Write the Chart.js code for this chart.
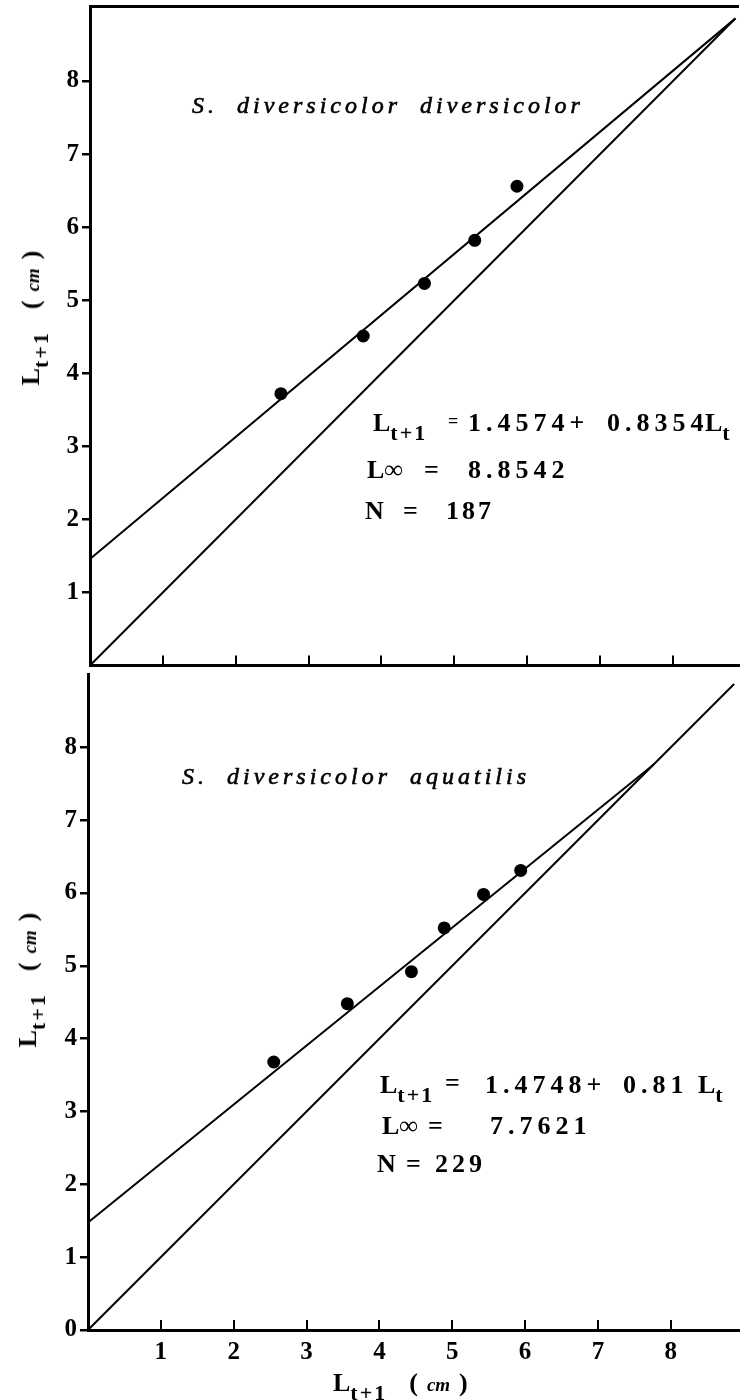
<!DOCTYPE html>
<html>
<head>
<meta charset="utf-8">
<script src="https://cdn.jsdelivr.net/npm/chart.js@4.4.0/dist/chart.umd.min.js"></script>
<style>
  html, body { margin: 0; padding: 0; background: #fff; }
  #page { position: relative; width: 745px; height: 1400px; overflow: hidden; font-family: "Liberation Serif", "DejaVu Serif", serif; color: #000; }
  canvas { position: absolute; left: 0; }
  .t { position: absolute; white-space: nowrap; line-height: 1; font-weight: bold; font-size: 26px; }
  .n { letter-spacing: 5px; }
  .sp { position: absolute; white-space: nowrap; line-height: 1; font-style: italic; font-size: 24px; letter-spacing: 4px; word-spacing: 9px; -webkit-text-stroke: 0.6px #000; }
  .t sub, .ax sub { font-size: 22px; vertical-align: -9px; line-height: 0; letter-spacing: 2px; }
  .inf { font-size: 26px; }
  .ax { position: absolute; white-space: nowrap; line-height: 1; font-weight: bold; font-size: 26px; }
  .ax i { font-size: 19px; }
  .gap1 { margin-left: 22px; }
  .gap2 { margin-left: 9px; }
</style>
</head>
<body>
<div id="page">
  <canvas id="topChart" width="745" height="672" style="top:0"></canvas>
  <canvas id="botChart" width="745" height="732" style="top:668px"></canvas>

  <!-- top panel text -->
  <div class="sp" style="left:192px;top:93px">S. diversicolor diversicolor</div>
  <div class="t" style="left:373px;top:410px">L<sub>t+1</sub></div>
  <div class="t" style="left:448px;top:412px;font-size:18px">=</div>
  <div class="t n" style="left:468px;top:410px">1.4574+</div>
  <div class="t n" style="left:607px;top:410px">0.8354</div>
  <div class="t" style="left:705px;top:410px">L<sub>t</sub></div>
  <div class="t" style="left:367px;top:457px">L<span class="inf">∞</span></div>
  <div class="t" style="left:424px;top:457px">=</div>
  <div class="t n" style="left:468px;top:457px">8.8542</div>
  <div class="t" style="left:365px;top:498px">N</div>
  <div class="t" style="left:403px;top:498px">=</div>
  <div class="t n" style="left:446px;top:498px;letter-spacing:3px">187</div>

  <!-- bottom panel text -->
  <div class="sp" style="left:182px;top:764px">S. diversicolor aquatilis</div>
  <div class="t" style="left:380px;top:1072px">L<sub>t+1</sub></div>
  <div class="t" style="left:445px;top:1070px">=</div>
  <div class="t n" style="left:485px;top:1072px">1.4748+</div>
  <div class="t n" style="left:623px;top:1072px">0.81</div>
  <div class="t" style="left:698px;top:1072px">L<sub>t</sub></div>
  <div class="t" style="left:382px;top:1113px">L<span class="inf">∞</span></div>
  <div class="t" style="left:428px;top:1113px">=</div>
  <div class="t n" style="left:490px;top:1113px">7.7621</div>
  <div class="t" style="left:377px;top:1151px">N</div>
  <div class="t" style="left:406px;top:1151px">=</div>
  <div class="t n" style="left:435px;top:1151px;letter-spacing:4px">229</div>

  <!-- axis titles -->
  <div class="ax" style="left:31px;top:318px;transform:translate(-50%,-50%) rotate(-90deg)">L<sub>t+1</sub><span class="gap1">(</span><i class="gap2">cm</i><span class="gap2">)</span></div>
  <div class="ax" style="left:28px;top:980px;transform:translate(-50%,-50%) rotate(-90deg)">L<sub>t+1</sub><span class="gap1">(</span><i class="gap2">cm</i><span class="gap2">)</span></div>
  <div class="ax" style="left:333px;top:1370px">L<sub>t+1</sub><span class="gap1">(</span><i class="gap2">cm</i><span class="gap2">)</span></div>
</div>

<script>
// tick values
const xTicks = [1, 2, 3, 4, 5, 6, 7, 8];
const topYTicks = [1, 2, 3, 4, 5, 6, 7, 8];
const botYTicks = [0, 1, 2, 3, 4, 5, 6, 7, 8];

// S. diversicolor diversicolor
const topObsX = [2.62, 3.75, 4.59, 5.28, 5.86];
const topObsY = [3.72, 4.51, 5.23, 5.82, 6.56];
const topFitX = [0, 8.8542];
const topFitY = [1.4574, 8.8542];
const topDiagX = [0, 8.86];
const topDiagY = [0, 8.86];

// S. diversicolor aquatilis
const botObsX = [2.55, 3.56, 4.44, 4.89, 5.43, 5.94];
const botObsY = [3.68, 4.48, 4.92, 5.52, 5.98, 6.31];
const botFitX = [0, 7.7621];
const botFitY = [1.4748, 7.7621];
const botDiagX = [0, 8.87];
const botDiagY = [0, 8.87];

const ink = '#000';
const tickFont = { family: 'Liberation Serif', size: 25, weight: 'bold' };

const pts = (xs, ys) => xs.map((x, i) => ({ x: x, y: ys[i] }));
const fixTicks = vals => s => { s.ticks = vals.map(v => ({ value: v })); };

// force an axis to a fixed size and drop the label overhang padding
function fixSize(s, w, h) {
    if (w !== null) s.width = w;
    if (h !== null) s.height = h;
    s.paddingTop = 0;
    s.paddingBottom = 0;
    s.paddingLeft = 0;
    s.paddingRight = 0;
}

function panel(id, cfg) {
    const scales = {
        x: {
            type: 'linear', position: 'bottom', min: 0, max: cfg.xMax,
            afterBuildTicks: fixTicks(xTicks),
            afterFit: s => fixSize(s, null, cfg.xHeight),
            border: { display: true, color: ink, width: 3 },
            grid: { display: true, drawOnChartArea: false, drawTicks: true, tickLength: -10, color: ink, lineWidth: 2 },
            ticks: { display: cfg.xLabels, color: ink, padding: 18, font: tickFont, autoSkip: false, maxRotation: 0 }
        },
        y: {
            type: 'linear', position: 'left', min: 0, max: cfg.yMax,
            afterBuildTicks: fixTicks(cfg.yTicks),
            afterFit: s => fixSize(s, cfg.yWidth, null),
            border: { display: true, color: ink, width: 3 },
            grid: { display: true, drawOnChartArea: false, drawTicks: true, tickLength: 8, color: ink, lineWidth: 2.5 },
            ticks: { color: ink, padding: 3, font: tickFont, autoSkip: false }
        }
    };
    if (cfg.topBorder) {
        scales.xTop = {
            type: 'linear', position: 'top', min: 0, max: cfg.xMax,
            afterFit: s => fixSize(s, null, 0),
            border: { display: true, color: ink, width: 3 },
            grid: { display: false },
            ticks: { display: false }
        };
    }

    return new Chart(document.getElementById(id), {
        type: 'scatter',
        data: {
            datasets: [
                {
                    label: 'observed',
                    data: pts(cfg.obsX, cfg.obsY),
                    backgroundColor: ink,
                    borderWidth: 0,
                    pointRadius: 6.5
                },
                {
                    label: 'fit',
                    data: pts(cfg.fitX, cfg.fitY),
                    showLine: true,
                    borderColor: ink,
                    borderWidth: 2,
                    pointRadius: 0
                },
                {
                    label: 'Lt+1 = Lt',
                    data: pts(cfg.diagX, cfg.diagY),
                    showLine: true,
                    borderColor: ink,
                    borderWidth: 2,
                    pointRadius: 0
                }
            ]
        },
        options: {
            responsive: false,
            animation: false,
            layout: { padding: { top: cfg.padTop, left: 0, right: 0, bottom: 0 } },
            plugins: { legend: { display: false }, tooltip: { enabled: false } },
            scales: scales
        }
    });
}

panel('topChart', {
    obsX: topObsX, obsY: topObsY,
    fitX: topFitX, fitY: topFitY,
    diagX: topDiagX, diagY: topDiagY,
    xMax: 8.9, yMax: 9.02, yTicks: topYTicks,
    yWidth: 90, xHeight: 2, padTop: 6,
    xLabels: false, topBorder: true
});

panel('botChart', {
    obsX: botObsX, obsY: botObsY,
    fitX: botFitX, fitY: botFitY,
    diagX: botDiagX, diagY: botDiagY,
    xMax: 8.93, yMax: 9.0, yTicks: botYTicks,
    yWidth: 88, xHeight: 70, padTop: 2,
    xLabels: true, topBorder: false
});
</script>
</body>
</html>
